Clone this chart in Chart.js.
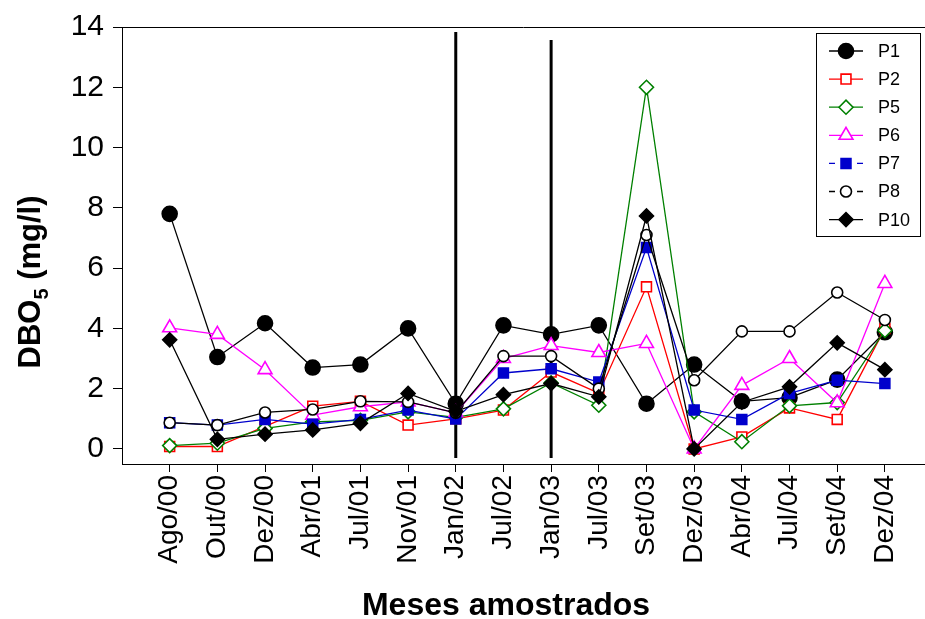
<!DOCTYPE html>
<html>
<head>
<meta charset="utf-8">
<script src="https://cdn.jsdelivr.net/npm/chart.js@4/dist/chart.umd.min.js"></script>
<style>
  html, body { margin: 0; padding: 0; background: #fff; }
  #wrap { width: 925px; height: 619px; }
</style>
</head>
<body>
<div id="wrap"><canvas id="dboChart" width="925" height="619"></canvas></div>
<script>
// Months sampled (x categories)
const months = ['Ago/00', 'Out/00', 'Dez/00', 'Abr/01', 'Jul/01', 'Nov/01', 'Jan/02', 'Jul/02',
  'Jan/03', 'Jul/03', 'Set/03', 'Dez/03', 'Abr/04', 'Jul/04', 'Set/04', 'Dez/04'];

// DBO5 (mg/l) per sampling point
const p1  = [7.8, 3.05, 4.17, 2.7, 2.8, 4.0, 1.5, 4.1, 3.8, 4.1, 1.5, 2.8, 1.58, 1.7, 2.3, 3.87];
const p2  = [0.08, 0.08, 0.75, 1.42, 1.58, 0.79, 1.0, 1.29, 2.55, 1.85, 5.38, 0.0, 0.4, 1.36, 0.98, 4.0];
const p5  = [0.11, 0.19, 0.68, 0.9, 0.95, 1.23, 1.05, 1.33, 2.19, 1.45, 12.0, 1.23, 0.24, 1.43, 1.54, 3.93];
const p6  = [4.02, 3.8, 2.63, 1.12, 1.4, 1.56, 1.2, 3.0, 3.43, 3.2, 3.5, 0.0, 2.11, 3.0, 1.53, 5.49];
const p7  = [0.87, 0.79, 0.98, 0.82, 0.98, 1.29, 0.99, 2.52, 2.66, 2.22, 6.68, 1.29, 0.98, 1.84, 2.28, 2.17];
const p8  = [0.87, 0.79, 1.21, 1.31, 1.58, 1.56, 1.2, 3.08, 3.08, 2.0, 7.1, 2.28, 3.9, 3.9, 5.19, 4.28];
const p10 = [3.62, 0.32, 0.49, 0.63, 0.85, 1.84, 1.25, 1.8, 2.17, 1.73, 7.73, 0.0, 1.55, 2.06, 3.52, 2.63];

// vertical divider lines (month index, 1-based) and their extents
const dividerAt = [7, 9];
const dividerTop = [13.83, 13.57];
const dividerBottom = -0.3;

const yTicks = [0, 2, 4, 6, 8, 10, 12, 14];

const FONT = 'Arial, "Liberation Sans", sans-serif';

function toPoints(values) {
  return values.map((v, i) => ({ x: i + 1, y: v }));
}

const series = [
  { label: 'P1',  data: p1,  color: '#000000', fill: '#000000', style: 'circle',   radius: 7.5, dash: false },
  { label: 'P2',  data: p2,  color: '#ff0000', fill: '#ffffff', style: 'rect',     radius: 7,   dash: false },
  { label: 'P5',  data: p5,  color: '#008000', fill: '#ffffff', style: 'rectRot',  radius: 7,   dash: false },
  { label: 'P6',  data: p6,  color: '#ff00ff', fill: '#ffffff', style: 'triangle', radius: 8,   dash: false },
  { label: 'P7',  data: p7,  color: '#0000cc', fill: '#0000cc', style: 'rect',     radius: 7,   dash: true },
  { label: 'P8',  data: p8,  color: '#000000', fill: '#ffffff', style: 'circle',   radius: 5.5, dash: true },
  { label: 'P10', data: p10, color: '#000000', fill: '#000000', style: 'rectRot',  radius: 7,   dash: false }
];

const datasets = series.map((s, i) => ({
  label: s.label,
  data: toPoints(s.data),
  borderColor: s.color,
  backgroundColor: s.fill,
  borderWidth: 1.3,
  pointStyle: s.style,
  pointRadius: s.radius,
  pointBorderWidth: 1.6,
  pointBorderColor: s.color,
  pointBackgroundColor: s.fill,
  tension: 0,
  order: series.length - i
}));

dividerAt.forEach((m, i) => {
  datasets.push({
    label: 'divider' + i,
    data: [{ x: m, y: dividerBottom }, { x: m, y: dividerTop[i] }],
    borderColor: '#000',
    borderWidth: 3,
    pointRadius: 0,
    order: 20
  });
});

// top frame line, axis titles and boxed legend
const decorPlugin = {
  id: 'decor',
  afterDraw(chart) {
    const ctx = chart.ctx;
    const a = chart.chartArea;
    ctx.save();

    // top border and bottom axis run to the right edge
    ctx.strokeStyle = '#000';
    ctx.lineWidth = 1;
    ctx.beginPath();
    ctx.moveTo(a.left, a.top + 0.5);
    ctx.lineTo(chart.width, a.top + 0.5);
    ctx.moveTo(a.right, a.bottom + 0.5);
    ctx.lineTo(chart.width, a.bottom + 0.5);
    ctx.stroke();

    // x title
    ctx.fillStyle = '#000';
    ctx.font = 'bold 32px ' + FONT;
    ctx.textAlign = 'center';
    ctx.textBaseline = 'alphabetic';
    ctx.fillText('Meses amostrados', 506, 615);

    // y title with subscript
    ctx.save();
    ctx.translate(40, 282);
    ctx.rotate(-Math.PI / 2);
    const bigFont = 'bold 31px ' + FONT;
    const subFont = 'bold 20px ' + FONT;
    ctx.font = bigFont;
    const w1 = ctx.measureText('DBO').width;
    const w3 = ctx.measureText(' (mg/l)').width;
    ctx.font = subFont;
    const w2 = ctx.measureText('5').width;
    let x = -(w1 + w2 + w3) / 2;
    ctx.textAlign = 'left';
    ctx.font = bigFont;
    ctx.fillText('DBO', x, 0);
    x += w1;
    ctx.font = subFont;
    ctx.fillText('5', x, 8);
    x += w2;
    ctx.font = bigFont;
    ctx.fillText(' (mg/l)', x, 0);
    ctx.restore();

    // legend box
    const lx = 816, ly = 33, lw = 104, lh = 203;
    ctx.fillStyle = '#fff';
    ctx.fillRect(lx, ly, lw, lh);
    ctx.strokeStyle = '#000';
    ctx.lineWidth = 1;
    ctx.strokeRect(lx + 0.5, ly + 0.5, lw, lh);

    series.forEach((s, i) => {
      const cy = 51 + i * 28.1;
      ctx.strokeStyle = s.color;
      ctx.lineWidth = 1.3;
      ctx.setLineDash(s.dash ? [6, 8] : []);
      ctx.beginPath();
      ctx.moveTo(829, cy);
      ctx.lineTo(863, cy);
      ctx.stroke();
      ctx.setLineDash([]);
      ctx.fillStyle = s.fill;
      ctx.strokeStyle = s.color;
      ctx.lineWidth = 1.6;
      Chart.helpers.drawPoint(ctx, { pointStyle: s.style, radius: s.radius, rotation: 0, borderWidth: 1.6 }, 846, cy);
      ctx.fillStyle = '#000';
      ctx.font = '18px ' + FONT;
      ctx.textAlign = 'left';
      ctx.textBaseline = 'middle';
      ctx.fillText(s.label, 878, cy + 1);
    });

    ctx.restore();
  }
};

new Chart(document.getElementById('dboChart'), {
  type: 'line',
  data: { datasets: datasets },
  plugins: [decorPlugin],
  options: {
    responsive: false,
    animation: false,
    layout: { padding: { top: 25, right: 0, left: 0, bottom: 0 } },
    plugins: {
      legend: { display: false },
      tooltip: { enabled: false }
    },
    scales: {
      x: {
        type: 'linear',
        min: 0,
        max: 16.64,
        afterBuildTicks: function(scale) {
          scale.ticks = months.map((m, i) => ({ value: i + 1 }));
        },
        afterFit: function(scale) {
          scale.height = 155;
        },
        grid: {
          display: true,
          drawOnChartArea: false,
          drawTicks: true,
          tickLength: 8,
          color: '#000'
        },
        border: { display: true, color: '#000', width: 1 },
        ticks: {
          autoSkip: false,
          maxRotation: 90,
          minRotation: 90,
          padding: 3,
          color: '#000',
          font: { family: FONT, size: 28 },
          callback: function(value) {
            return months[value - 1] || '';
          }
        }
      },
      y: {
        min: -0.5,
        max: 14,
        afterBuildTicks: function(scale) {
          scale.ticks = yTicks.map(v => ({ value: v }));
        },
        afterFit: function(scale) {
          scale.width = 122;
        },
        grid: {
          display: true,
          drawOnChartArea: false,
          drawTicks: true,
          tickLength: 9,
          color: '#000'
        },
        border: { display: true, color: '#000', width: 1 },
        ticks: {
          padding: 9,
          color: '#000',
          font: { family: FONT, size: 30 }
        }
      }
    }
  }
});
</script>
</body>
</html>
